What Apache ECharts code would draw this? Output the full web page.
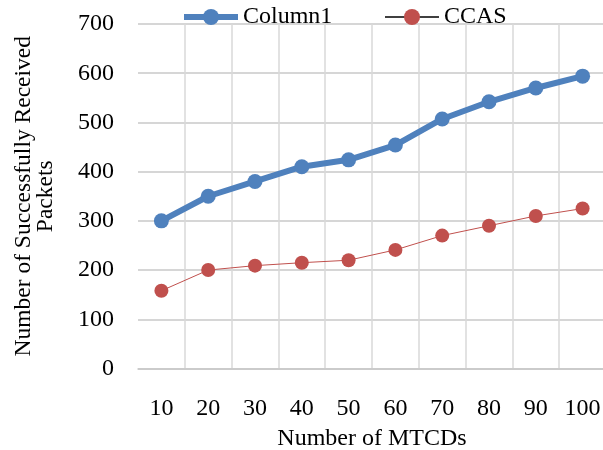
<!DOCTYPE html>
<html><head><meta charset="utf-8">
<script src="https://cdn.jsdelivr.net/npm/echarts@6/dist/echarts.min.js"></script>
<style>html,body{margin:0;padding:0;background:#fff}#c{width:603px;height:450px}</style>
</head><body><div id="c"></div>
<script>
const categories = ['10','20','30','40','50','60','70','80','90','100'];
const column1 = [300, 350, 380, 410, 424, 454, 507, 542, 570, 594];
const ccas = [158, 200, 209, 215, 220, 241, 270, 290, 310, 325];
const seriesNames = ['Column1', 'CCAS'];
const FONT = '"Liberation Serif","Times New Roman",serif';
const chart = echarts.init(document.getElementById('c'), null, {renderer: 'canvas'});
chart.setOption({
  animation: false,
  textStyle: {fontFamily: FONT, color: '#000'},
  legend: {
    top: 0, left: 176,
    itemGap: 52,
    itemWidth: 54, itemHeight: 20,
    textStyle: {fontFamily: FONT, fontSize: 24, color: '#000'},
    data: [
      {name: seriesNames[0], lineStyle: {color: '#4F81BD', width: 6}},
      {name: seriesNames[1], lineStyle: {color: '#000000', width: 1.3, opacity: 1}}
    ]
  },
  grid: {left: 138, right: -3, top: 24, bottom: 81.5, containLabel: false, outerBoundsMode: 'none'},
  xAxis: {
    type: 'category', data: categories, boundaryGap: true,
    name: 'Number of MTCDs', nameLocation: 'middle', nameGap: 58,
    nameTextStyle: {fontFamily: FONT, fontSize: 24, color: '#000'},
    axisLine: {show: true, lineStyle: {color: '#C8C8C8', width: 1.5}},
    axisTick: {show: false},
    axisLabel: {fontFamily: FONT, fontSize: 24, color: '#000', margin: 28, interval: 0},
    splitLine: {show: true, interval: function(i){ return i !== 0; }, lineStyle: {color: '#D9D9D9', width: 1.5}}
  },
  yAxis: {
    type: 'value', min: 0, max: 700, interval: 100,
    name: 'Number of Successfully Received\nPackets', nameLocation: 'middle', nameGap: 81, nameRotate: 90,
    nameTextStyle: {fontFamily: FONT, fontSize: 23.5, color: '#000', lineHeight: 22},
    axisLine: {show: false}, axisTick: {show: false},
    axisLabel: {fontFamily: FONT, fontSize: 24, color: '#000', margin: 24},
    splitLine: {show: true, lineStyle: {color: '#C8C8C8', width: 1.5}}
  },
  series: [
    {name: seriesNames[0], type: 'line', data: column1, symbol: 'circle', symbolSize: 15,
     lineStyle: {color: '#4F81BD', width: 6}, itemStyle: {color: '#4F81BD'}},
    {name: seriesNames[1], type: 'line', data: ccas, symbol: 'circle', symbolSize: 14,
     lineStyle: {color: '#C0504D', width: 1}, itemStyle: {color: '#C0504D'}}
  ]
});
</script></body></html>
